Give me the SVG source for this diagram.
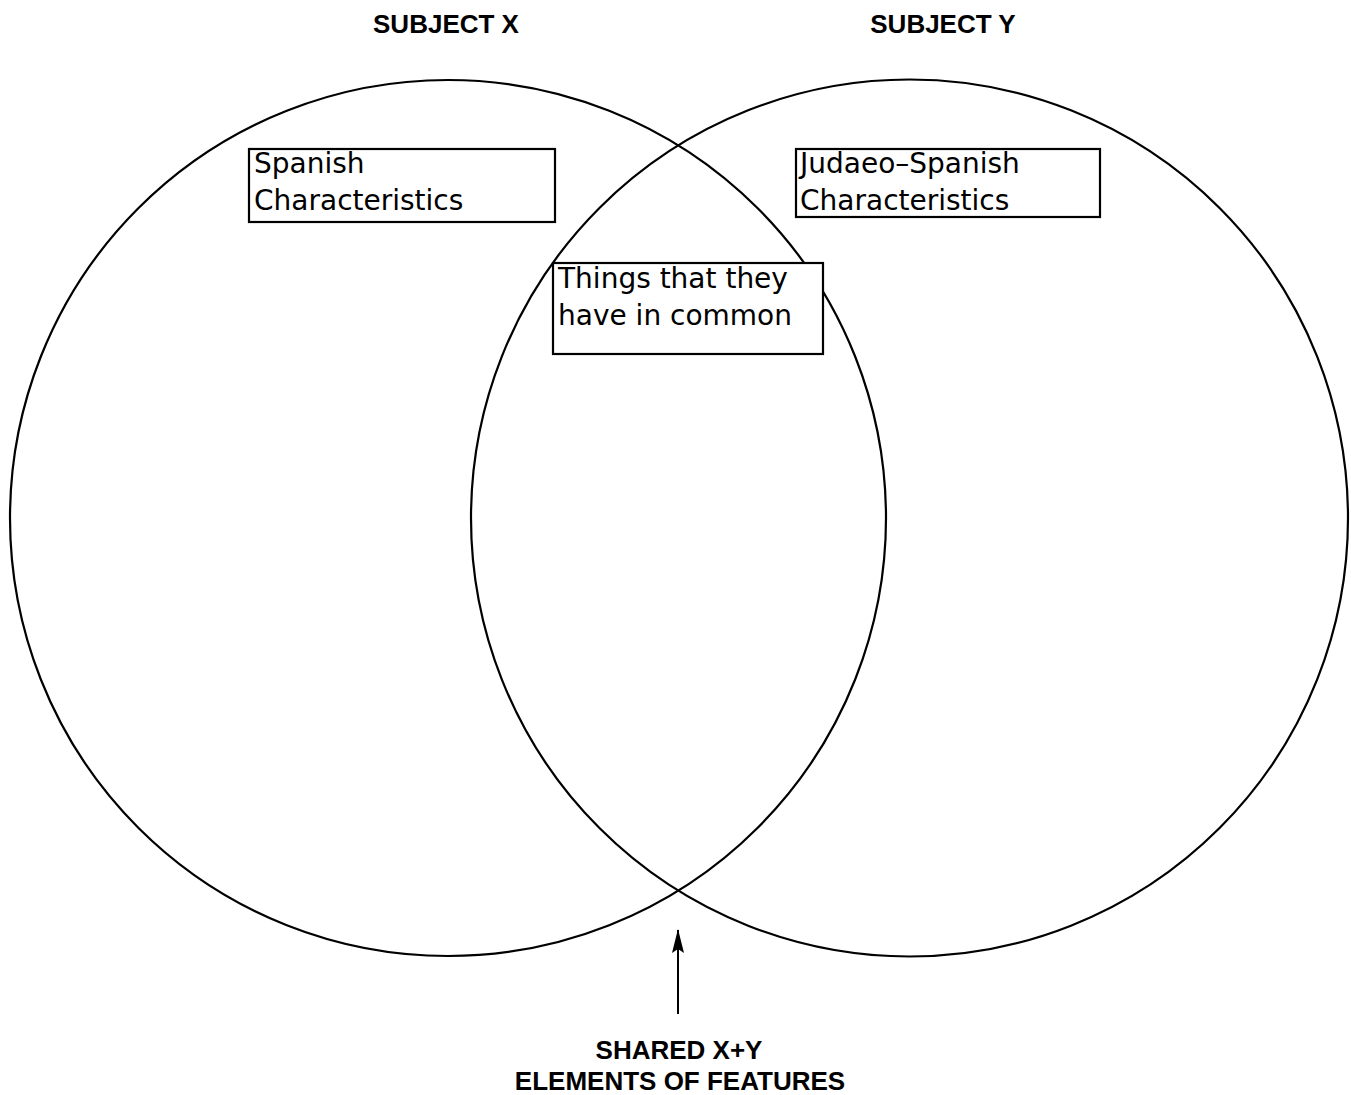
<svg xmlns="http://www.w3.org/2000/svg" width="1351" height="1095" viewBox="0 0 1351 1095">
<defs>
<style>
.circ{fill:none;stroke:#000;stroke-width:2.2}
.box{fill:#fff;stroke:#000;stroke-width:2.2}
.lbl{font-family:"DejaVu Sans",sans-serif;font-size:28px;fill:#000}
.hd{font-family:"Liberation Sans",Arial,sans-serif;font-size:26px;font-weight:bold;fill:#000;text-anchor:middle}
</style>
<marker id="ah" viewBox="0 0 24 12" refX="23" refY="6" markerWidth="24" markerHeight="12" markerUnits="userSpaceOnUse" orient="auto">
<path d="M24,6 L0,0 L4,6 L0,12 Z" fill="#000"/>
</marker>
</defs>
<rect width="1351" height="1095" fill="#fff"/>
<g id="titles">
<text class="hd" x="446" y="33">SUBJECT X</text>
<text class="hd" x="943" y="33">SUBJECT Y</text>
</g>
<g id="circle-x"><circle class="circ" cx="448" cy="518" r="438"/></g>
<g id="circle-y"><circle class="circ" cx="909.5" cy="518" r="438.5"/></g>
<g id="node-spanish">
<rect class="box" x="249" y="149" width="306" height="73"/>
<text class="lbl" x="254" y="173">Spanish</text>
<text class="lbl" x="254" y="210">Characteristics</text>
</g>
<g id="node-judaeo">
<rect class="box" x="796" y="149" width="304" height="68"/>
<text class="lbl" x="800" y="173">Judaeo–Spanish</text>
<text class="lbl" x="800" y="210">Characteristics</text>
</g>
<g id="node-common">
<rect class="box" x="553" y="263" width="270" height="91"/>
<text class="lbl" x="558" y="288">Things that they</text>
<text class="lbl" x="558" y="325">have in common</text>
</g>
<g id="connectors">
<line x1="678" y1="1014" x2="678" y2="930" stroke="#000" stroke-width="2" marker-end="url(#ah)"/>
</g>
<g id="node-shared">
<text class="hd" x="679" y="1059">SHARED X+Y</text>
<text class="hd" x="680" y="1090">ELEMENTS OF FEATURES</text>
</g>
</svg>
